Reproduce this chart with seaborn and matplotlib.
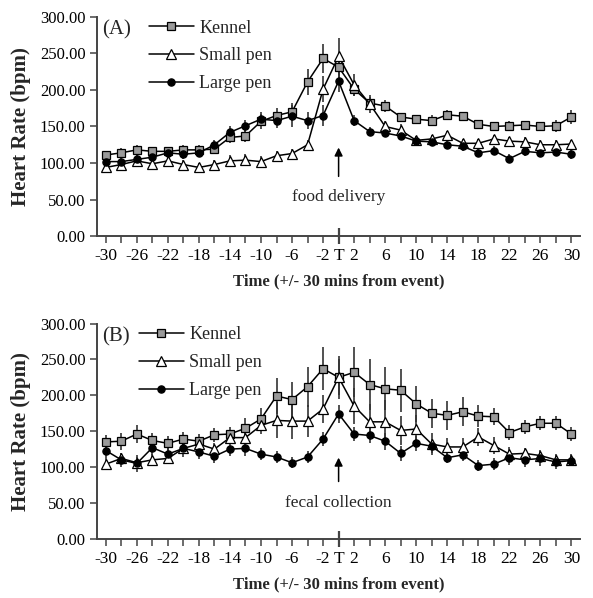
import numpy as np
import pandas as pd
import matplotlib
matplotlib.use("Agg")
import matplotlib.pyplot as plt
import seaborn as sns

# ---------------- data ----------------
minutes = list(range(-30, 31, 2))

# Panel A - food delivery
a_kennel = [111, 114, 118, 116, 116, 118, 118, 119, 135, 137, 157, 165, 170,
            211, 243, 231, 201, 182, 178, 163, 160, 158, 166, 164, 153, 150,
            151, 152, 150, 151, 163]
a_kennel_se = [6, 6, 6, 6, 6, 6, 6, 6, 8, 8, 10, 10, 12,
               18, 20, 15, 10, 8, 8, 6, 6, 8, 6, 6, 6, 6,
               6, 6, 6, 8, 10]
a_small = [94, 98, 103, 99, 103, 98, 94, 98, 103, 104, 102, 110, 113,
           125, 201, 246, 207, 181, 150, 145, 131, 133, 138, 127, 127, 133,
           130, 129, 125, 125, 126]
a_small_se = [8, 8, 8, 8, 8, 6, 6, 6, 8, 8, 8, 6, 6,
              6, 18, 25, 15, 12, 8, 8, 6, 6, 6, 6, 6, 6,
              6, 6, 6, 6, 6]
a_large = [102, 102, 105, 108, 114, 112, 114, 125, 142, 151, 160, 158, 164,
           158, 165, 212, 158, 143, 141, 137, 130, 129, 125, 123, 114, 117,
           106, 116, 114, 115, 112]
a_large_se = [6, 6, 6, 6, 6, 6, 6, 6, 8, 8, 10, 10, 15,
              12, 15, 15, 8, 6, 6, 6, 6, 6, 6, 6, 6, 6,
              6, 6, 6, 6, 6]

# Panel B - fecal collection
b_kennel = [135, 136, 146, 137, 133, 139, 136, 145, 146, 154, 167, 199, 194,
            212, 237, 225, 232, 215, 209, 207, 188, 175, 172, 177, 171, 170,
            148, 156, 161, 161, 146]
b_kennel_se = [10, 12, 12, 10, 10, 10, 10, 10, 10, 15, 15, 25, 25,
               28, 30, 25, 35, 35, 30, 30, 25, 20, 20, 20, 15, 12,
               10, 10, 10, 10, 10]
b_small = [104, 112, 106, 110, 112, 126, 132, 125, 141, 141, 158, 165, 164,
           164, 181, 225, 185, 163, 163, 151, 153, 132, 128, 128, 142, 130,
           118, 119, 116, 110, 110]
b_small_se = [8, 8, 8, 8, 8, 8, 8, 8, 8, 8, 12, 25, 25,
              22, 20, 30, 25, 25, 30, 20, 20, 15, 12, 12, 12, 12,
              10, 8, 8, 8, 8]
b_large = [123, 110, 105, 127, 118, 126, 121, 115, 125, 126, 118, 114, 106,
           114, 139, 174, 146, 144, 136, 119, 133, 129, 113, 117, 102, 104,
           113, 110, 112, 107, 109]
b_large_se = [10, 10, 12, 10, 10, 12, 10, 10, 10, 10, 8, 8, 8,
              8, 10, 12, 10, 10, 12, 10, 10, 10, 8, 8, 8, 8,
              10, 10, 10, 10, 8]

series_names = ["Kennel", "Small pen", "Large pen"]
panel_tags = ["(A)", "(B)"]
event_labels = ["food delivery", "fecal collection"]

tick_pos = minutes
tick_text = [str(m) if m in (-30, -26, -22, -18, -14, -10, -6, -2, 2, 6, 10,
                             14, 18, 22, 26, 30) else ("T" if m == 0 else "")
             for m in minutes]

# ---------------- styling ----------------
sns.set_style("ticks")
plt.rcParams["font.family"] = ["Liberation Serif", "DejaVu Serif"]
plt.rcParams["axes.linewidth"] = 1.4
plt.rcParams["axes.edgecolor"] = "#444444"

marker_style = {
    "Kennel": dict(marker="s", markerfacecolor="#9a9a9a", markersize=5.5),
    "Small pen": dict(marker="^", markerfacecolor="white", markersize=6.5),
    "Large pen": dict(marker="o", markerfacecolor="black", markersize=5.2),
}

fig = plt.figure(figsize=(5.93, 5.98), dpi=100)
ax_a = fig.add_axes([0.164, 0.605, 0.814, 0.367])
ax_b = fig.add_axes([0.164, 0.099, 0.814, 0.360])

panels = [
    (ax_a, [a_kennel, a_small, a_large], [a_kennel_se, a_small_se, a_large_se],
     (125, 78), 53, 0.08),
    (ax_b, [b_kennel, b_small, b_large], [b_kennel_se, b_small_se, b_large_se],
     (117, 76), 50, 0.06),
]

for i, (ax, vals, errs, arrow_y, text_y, leg_x) in enumerate(panels):
    for name, v, e in zip(series_names, vals, errs):
        df = pd.DataFrame({"minute": minutes, "hr": v})
        ax.errorbar(minutes, v, yerr=e, fmt="none", ecolor="#333333",
                    elinewidth=1.2, capsize=0, zorder=1)
        sns.lineplot(data=df, x="minute", y="hr", ax=ax, color="black",
                     linewidth=1.1, markeredgecolor="black",
                     markeredgewidth=0.9, label=name, zorder=3,
                     **marker_style[name])

    ax.set_xlim(-31.1, 31.1)
    ax.set_ylim(0, 300)
    ax.set_yticks(np.arange(0, 301, 50))
    ax.set_yticklabels([f"{t:.2f}" for t in np.arange(0, 301, 50)], fontsize=12)
    ax.set_xticks(tick_pos)
    ax.set_xticklabels(tick_text, fontsize=12.5)
    ax.tick_params(axis="both", direction="out", length=5, width=1.1,
                   colors="#444444", labelcolor="black")
    # longer tick at T
    t_tick = ax.xaxis.get_major_ticks()[15]
    t_tick.tick1line.set_marker("|")
    t_tick.tick1line.set_markersize(12)
    t_tick.tick1line.set_markeredgewidth(1.6)

    ax.set_xlabel("Time (+/- 30 mins from event)", fontsize=12,
                  fontweight="bold", labelpad=7)
    ax.set_ylabel("Heart Rate (bpm)", fontsize=15, fontweight="bold",
                  labelpad=6)
    sns.despine(ax=ax)

    ax.text(0.01, 0.985, panel_tags[i], transform=ax.transAxes, fontsize=15,
            va="top", ha="left")
    ax.legend(loc="upper left", bbox_to_anchor=(leg_x, 1.045), frameon=False,
              fontsize=13, handlelength=2.5, handletextpad=0.3,
              labelspacing=0.6, borderpad=0.2)

    ax.annotate("", xy=(0, arrow_y[0]), xytext=(0, arrow_y[1]),
                arrowprops=dict(arrowstyle="-|>", color="black", lw=1.1,
                                mutation_scale=12))
    ax.text(0, text_y, event_labels[i], fontsize=12.5, ha="center",
            va="center")

fig.savefig("out.png", dpi=100)
